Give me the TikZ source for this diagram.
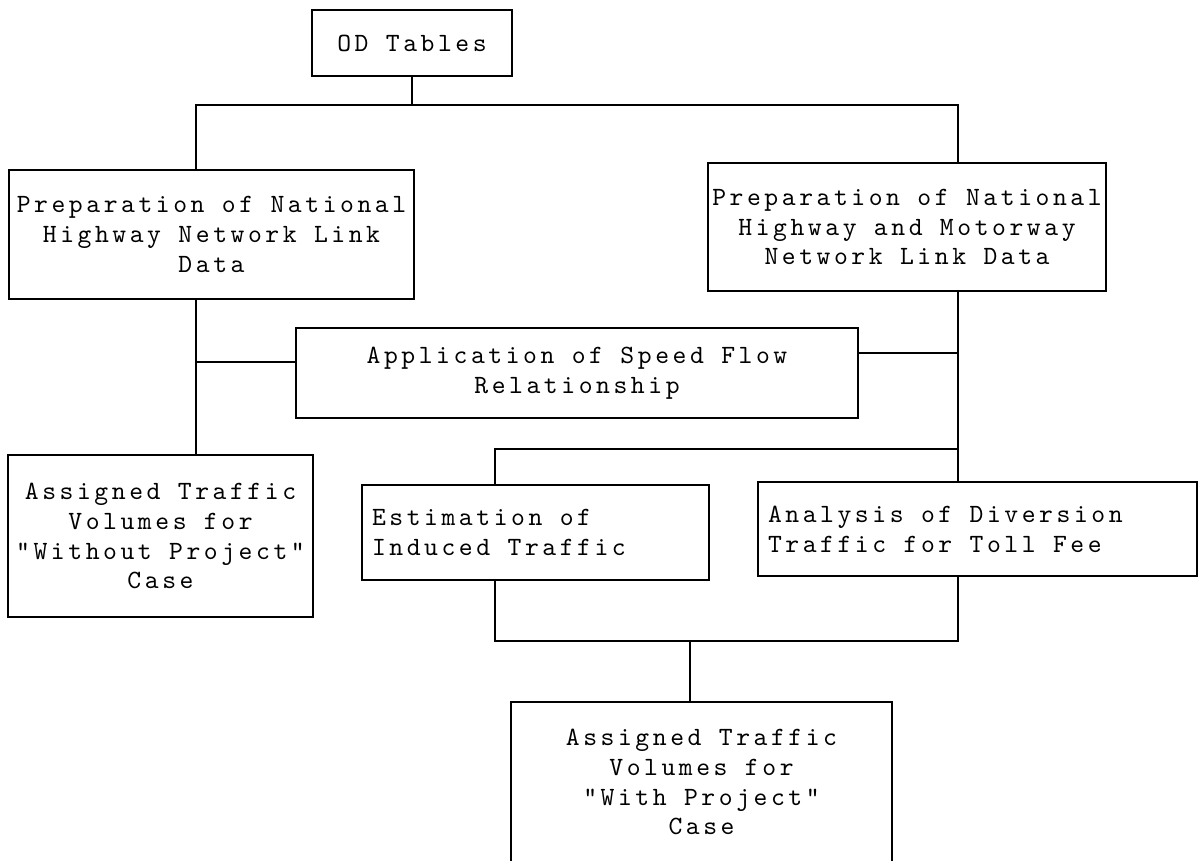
\documentclass[tikz,border=0pt]{standalone}
\usepackage{fontspec}
\usepackage{tikz}
\usetikzlibrary{positioning}
\newfontfamily\boxfam{lmmono10-regular.otf}[LetterSpace=13.5]
\newcommand{\boxfont}{\boxfam\fontsize{15}{17}\selectfont}

\begin{document}
\begin{tikzpicture}[x=0.02cm,y=-0.02cm,line width=0.9pt,
	box/.style={rectangle,draw,font=\boxfont,inner sep=0pt,align=center},
	lbox/.style={box,align=flush left,inner xsep=0.2cm},
	]
	\useasboundingbox (0,0) rectangle (1199,860);
	% boxes
	\node (od) [box,minimum width=4cm,minimum height=1.32cm] at (412,43) {OD Tables};
	\node (prepa) [box,minimum width=8.1cm,minimum height=2.58cm] at (211.5,234.5) {Preparation of National\\Highway Network Link\\Data};
	\node (prepb) [box,minimum width=7.96cm,minimum height=2.56cm] at (907,227) {Preparation of National\\Highway and Motorway\\Network Link Data};
	\node (appl) [box,minimum width=11.24cm,minimum height=1.8cm] at (577,373) {Application of Speed Flow\\Relationship};
	\node (without) [box,minimum width=6.1cm,minimum height=3.24cm] at (160.5,536) {Assigned Traffic\\Volumes for\\"Without Project"\\Case};
	\node (induced) [lbox,text width=6.54cm,minimum height=1.9cm] at (535.5,532.5) {Estimation of\\Induced Traffic};
	\node (diversion) [lbox,text width=8.38cm,minimum height=1.88cm] at (977.5,529) {Analysis of Diversion\\Traffic for Toll Fee};
	\node (withp) [box,minimum width=7.62cm,minimum height=3.2cm] at (701.5,782) {Assigned Traffic\\Volumes for\\"With Project"\\Case};
	% junctions
	\coordinate (ltop) at (196,105);
	\coordinate (rtop) at (958,105);
	\coordinate (lmid) at (196,362);
	\coordinate (rmid) at (958,353);
	\coordinate (ibr) at (958,449);
	\coordinate (ileft) at (495,449);
	\coordinate (jl) at (495,641);
	\coordinate (jr) at (958,641);
	\coordinate (jm) at (690,641);
	% connectors
	\draw (od.south) -- (od.south |- ltop);
	\draw (prepa.north -| ltop) -- (ltop) -- (rtop) -- (prepb.north -| rtop);
	\draw (prepa.south -| ltop) -- (without.north -| ltop);
	\draw (lmid) -- (appl.west |- lmid);
	\draw (prepb.south -| rtop) -- (diversion.north -| rtop);
	\draw (appl.east |- rmid) -- (rmid);
	\draw (ibr) -- (ileft) -- (induced.north -| ileft);
	\draw (induced.south -| jl) -- (jl) -- (jr) -- (diversion.south -| jr);
	\draw (jm) -- (withp.north -| jm);
\end{tikzpicture}
\end{document}
